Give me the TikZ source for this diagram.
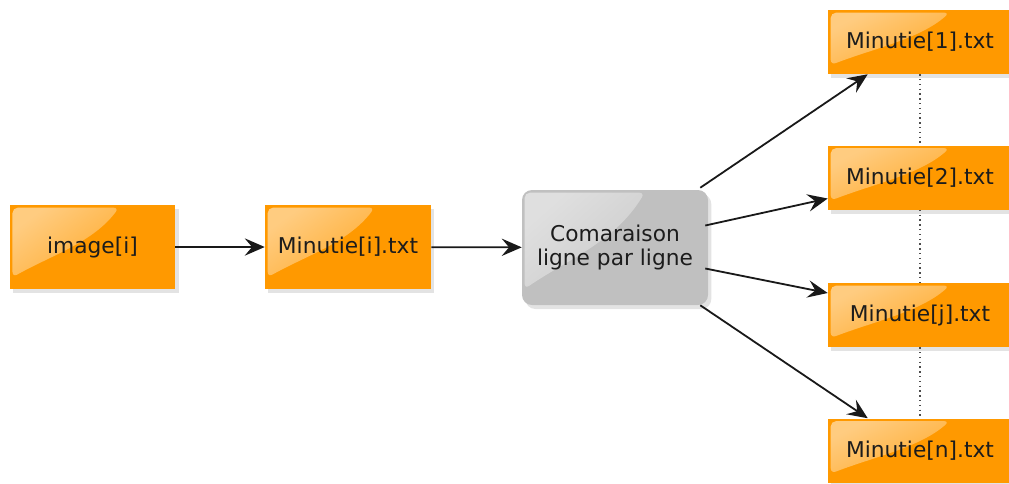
\documentclass[tikz,border=0pt]{standalone}
\usepackage{fontspec}
\setmainfont{DejaVu Sans}
\usetikzlibrary{arrows.meta,calc,shadows,fadings}
\definecolor{boxorange}{RGB}{255,153,0}
\definecolor{boxgray}{RGB}{192,192,192}
\definecolor{txtcol}{RGB}{28,28,28}
\tikzfading[name=glossfade, left color=transparent!50, right color=transparent!95]
\tikzset{
  gloss/.style={path picture={
    \fill[white, path fading=glossfade, fading angle=-35, rounded corners=4pt]
      let \p1=(path picture bounding box.north west), \p2=(path picture bounding box.south east) in
      (\x1+2pt,\y1-2pt) -- ({\x1+0.66*(\x2-\x1)},\y1-2pt)
      .. controls ({\x1+0.5*(\x2-\x1)},{\y1-0.45*(\y1-\y2)}) and ({\x1+0.25*(\x2-\x1)},{\y1-0.6*(\y1-\y2)}) ..
      (\x1+2pt,{\y1-0.86*(\y1-\y2)}) -- cycle;
  }},
  basebox/.style={draw=none, text=txtcol, inner sep=0pt, align=center,
    font=\fontsize{16.3pt}{19pt}\selectfont,
    drop shadow={opacity=0.22, shadow xshift=2.5pt, shadow yshift=-3pt}, gloss},
  filebox/.style={basebox, fill=boxorange, minimum height=48pt},
  leftbox/.style={basebox, fill=boxorange, minimum width=124pt, minimum height=63pt},
  cmpbox/.style={basebox, fill=boxgray, rounded corners=7.5pt, minimum width=139.5pt, minimum height=86.25pt},
  arr/.style={-{Stealth[length=15pt, width=13pt, inset=5.5pt]}, line width=1.35pt, black!90},
  dotline/.style={line width=1pt, dash pattern=on 1pt off 2.6pt, black!70}
}
\begin{document}
\begin{tikzpicture}[x=0.75pt, y=-0.75pt]
\useasboundingbox (0,0) rectangle (1009,483);
\node[leftbox] (img) at (92.5,247) {image[i]};
\node[leftbox, minimum width=124.5pt] (mi) at (348,247) {Minutie[i].txt};
\node[cmpbox] (cmp) at (615,247.5) {Comaraison\\[-1pt]ligne par ligne};
\node[filebox, minimum width=138pt] (m1) at (920,42) {Minutie[1].txt};
\node[filebox, minimum width=138pt] (m2) at (920,177.5) {Minutie[2].txt};
\node[filebox, minimum width=138pt] (mj) at (920,315) {Minutie[j].txt};
\node[filebox, minimum width=138pt] (mn) at (920,450.5) {Minutie[n].txt};
\draw[dotline] (m1) -- (m2);
\draw[dotline] (m2) -- (mj);
\draw[dotline] (mj) -- (mn);
\draw[arr] (img) -- (mi);
\draw[arr] (mi) -- (cmp);
\draw[arr] ($(cmp.north east)+(-8,-2)$) -- ($(m1.south west)+(40,0)$);
\draw[arr] ($(cmp.east)+(-3,-22)$) -- ($(m2.west)+(0,21)$);
\draw[arr] ($(cmp.east)+(-3,21)$) -- ($(mj.west)+(0,-22)$);
\draw[arr] ($(cmp.south east)+(-8,0)$) -- ($(mn.north west)+(40,0)$);
\end{tikzpicture}
\end{document}
